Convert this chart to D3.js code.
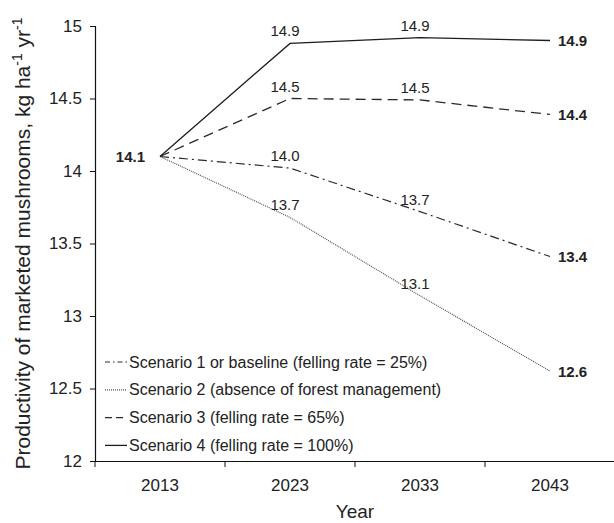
<!DOCTYPE html>
<html>
<head>
<meta charset="utf-8">
<script src="https://cdn.jsdelivr.net/npm/d3@7"></script>
<style>
  html, body { margin: 0; padding: 0; background: #fff; }
  svg { display: block; font-family: "Liberation Sans", Arial, sans-serif; }
</style>
</head>
<body>
<svg id="chart" width="614" height="523"></svg>
<script>
// Mushroom productivity projections under four felling scenarios
const years = ["2013", "2023", "2033", "2043"];
const scenarioNames = [
  "Scenario 1 or baseline (felling rate = 25%)",
  "Scenario 2 (absence of forest management)",
  "Scenario 3 (felling rate = 65%)",
  "Scenario 4 (felling rate = 100%)"
];
const scenario1 = [14.1, 14.02, 13.72, 13.41];
const scenario2 = [14.1, 13.68, 13.14, 12.62];
const scenario3 = [14.1, 14.50, 14.49, 14.39];
const scenario4 = [14.1, 14.88, 14.92, 14.90];
const yTicks = [12, 12.5, 13, 13.5, 14, 14.5, 15];

const series = [
  { name: scenarioNames[0], values: scenario1, dash: "9,4,2,4", legendDash: "5,3,1.5,3", color: "#2a2a2a", width: 1.2 },
  { name: scenarioNames[1], values: scenario2, dash: "1,1", legendDash: "1,1", color: "#555", width: 1.2 },
  { name: scenarioNames[2], values: scenario3, dash: "10,6", legendDash: "7,4", color: "#2a2a2a", width: 1.3 },
  { name: scenarioNames[3], values: scenario4, dash: null, legendDash: null, color: "#1e1e1e", width: 1.3 }
];

const svg = d3.select("#chart");
const margin = { left: 95, right: -1, top: 26, bottom: 62 };
const W = 614, H = 523;

const x = d3.scaleBand().domain(years).range([margin.left, W - margin.right]).padding(0);
const y = d3.scaleLinear().domain([12, 15]).range([H - margin.bottom, margin.top]);
const cx = d => x(d) + x.bandwidth() / 2;
const fmt = d3.format(".1f");
const textColor = "#222";

// Y axis
const yAxis = svg.append("g")
  .attr("transform", `translate(${margin.left},0)`)
  .call(d3.axisLeft(y).tickValues(yTicks).tickFormat(d => String(d)).tickSize(5).tickPadding(8));
yAxis.select(".domain").attr("stroke", "#111").attr("stroke-width", 1.2);
yAxis.selectAll(".tick line").attr("stroke", "#111");
yAxis.selectAll(".tick text").attr("font-size", 17).attr("fill", textColor)
  .attr("font-family", "'Liberation Sans', Arial, sans-serif");

// X axis: labels at band centres, tick marks at band boundaries
const xAxis = svg.append("g")
  .attr("transform", `translate(0,${y(12)})`)
  .call(d3.axisBottom(x).tickSize(0).tickPadding(18));
xAxis.select(".domain").attr("stroke", "#111").attr("stroke-width", 1.2);
xAxis.selectAll(".tick text").attr("font-size", 17).attr("fill", textColor)
  .attr("font-family", "'Liberation Sans', Arial, sans-serif");
xAxis.selectAll(".boundary").data(years).enter().append("line")
  .attr("class", "boundary")
  .attr("x1", d => x(d)).attr("x2", d => x(d))
  .attr("y1", 0).attr("y2", 6)
  .attr("stroke", "#111");

// Axis titles
svg.append("text")
  .attr("x", (x.range()[0] + x.range()[1]) / 2)
  .attr("y", 518)
  .attr("text-anchor", "middle")
  .attr("font-size", 19)
  .attr("fill", textColor)
  .text("Year");

const yTitle = svg.append("text")
  .attr("transform", `translate(30,${(y.range()[0] + y.range()[1]) / 2}) rotate(-90)`)
  .attr("text-anchor", "middle")
  .attr("font-size", 21)
  .attr("fill", textColor);
yTitle.append("tspan").text("Productivity of marketed mushrooms, kg ha");
yTitle.append("tspan").attr("font-size", 14).attr("dy", -8).text("-1");
yTitle.append("tspan").attr("dy", 8).text(" yr");
yTitle.append("tspan").attr("font-size", 14).attr("dy", -8).text("-1");

// Scenario lines
const line = d3.line().x((d, i) => cx(years[i])).y(d => y(d));
svg.selectAll(".scenario").data(series).enter().append("path")
  .attr("class", "scenario")
  .attr("d", d => line(d.values))
  .attr("fill", "none")
  .attr("stroke", d => d.color)
  .attr("stroke-width", d => d.width)
  .attr("stroke-dasharray", d => d.dash);

// Intermediate value labels (above each point)
series.forEach(s => {
  s.values.slice(1, 3).forEach((v, k) => {
    const i = k + 1;
    svg.append("text")
      .attr("x", cx(years[i]) - 5)
      .attr("y", y(v) - 7)
      .attr("text-anchor", "middle")
      .attr("font-size", 15)
      .attr("fill", textColor)
      .text(fmt(v));
  });
  // final value, bold to the right
  const last = s.values[s.values.length - 1];
  svg.append("text")
    .attr("x", cx(years[years.length - 1]) + 8)
    .attr("y", y(last))
    .attr("dy", "0.36em")
    .attr("font-size", 15)
    .attr("font-weight", "bold")
    .attr("fill", textColor)
    .text(fmt(last));
});

// shared starting value, bold to the left
svg.append("text")
  .attr("x", cx(years[0]) - 15)
  .attr("y", y(scenario1[0]))
  .attr("dy", "0.36em")
  .attr("text-anchor", "end")
  .attr("font-size", 15)
  .attr("font-weight", "bold")
  .attr("fill", textColor)
  .text(fmt(scenario1[0]));

// Legend
const legend = svg.append("g").attr("transform", "translate(105,362)");
const rows = legend.selectAll("g").data(series).enter().append("g")
  .attr("transform", (d, i) => `translate(0,${i * 27.8})`);
rows.append("line")
  .attr("x1", 0).attr("x2", 22).attr("y1", 0).attr("y2", 0)
  .attr("stroke", d => d.color)
  .attr("stroke-width", d => d.width)
  .attr("stroke-dasharray", d => d.legendDash);
rows.append("text")
  .attr("x", 24)
  .attr("dy", "0.35em")
  .attr("font-size", 16)
  .attr("fill", textColor)
  .text(d => d.name);
</script>
</body>
</html>
